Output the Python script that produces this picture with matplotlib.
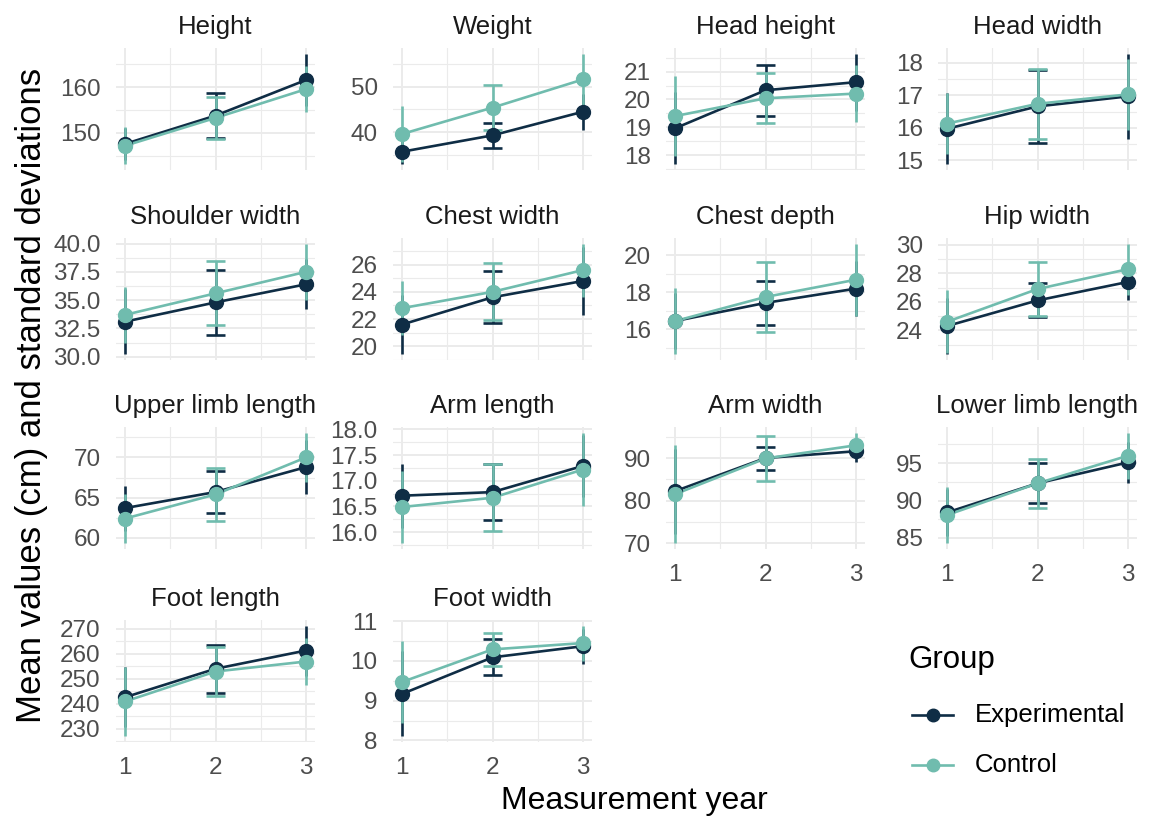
import numpy as np
import matplotlib
matplotlib.use("Agg")
import matplotlib.pyplot as plt
from matplotlib.lines import Line2D

plt.rcParams['font.family'] = ['Liberation Sans', 'DejaVu Sans']

years = [1, 2, 3]
panels = ["Height", "Weight", "Head height", "Head width",
          "Shoulder width", "Chest width", "Chest depth", "Hip width",
          "Upper limb length", "Arm length", "Arm width", "Lower limb length",
          "Foot length", "Foot width"]

exp_mean = [[147.6, 153.8, 161.6], [35.7, 39.3, 44.5], [18.96, 20.33, 20.62], [15.97, 16.66, 16.97],
            [33.1, 34.8, 36.4], [21.6, 23.6, 24.8], [16.45, 17.43, 18.2], [24.3, 26.1, 27.4],
            [63.7, 65.7, 68.8], [16.71, 16.78, 17.29], [82.2, 90.0, 91.6], [88.4, 92.3, 95.1],
            [242.6, 254.0, 261.3], [9.17, 10.09, 10.37]]
exp_sd = [[3.5, 4.9, 5.8], [2.8, 2.8, 4.0], [1.3, 0.92, 1.03], [1.1, 1.13, 1.32],
          [2.9, 2.9, 2.2], [2.2, 1.9, 2.5], [1.5, 1.2, 1.5], [2.0, 1.2, 1.3],
          [2.8, 2.6, 3.4], [0.62, 0.54, 0.6], [10.0, 2.7, 2.6], [3.2, 2.7, 2.8],
          [12.0, 9.7, 10.0], [1.07, 0.45, 0.44]]
ctrl_mean = [[147.2, 153.3, 159.6], [39.6, 45.4, 51.6], [19.4, 20.04, 20.21], [16.13, 16.74, 17.03],
             [33.7, 35.6, 37.5], [22.8, 24.0, 25.6], [16.45, 17.75, 18.68], [24.6, 26.9, 28.3],
             [62.4, 65.4, 70.0], [16.49, 16.67, 17.22], [81.5, 89.9, 93.0], [88.05, 92.3, 96.0],
             [240.9, 252.9, 256.9], [9.47, 10.29, 10.45]]
ctrl_sd = [[4.1, 4.6, 5.0], [6.2, 5.0, 5.7], [1.45, 0.9, 1.03], [0.95, 1.08, 1.1],
           [2.5, 2.83, 2.5], [2.0, 2.1, 1.95], [1.8, 1.9, 1.95], [2.2, 1.88, 1.8],
           [3.1, 3.3, 3.1], [0.71, 0.65, 0.72], [11.6, 5.3, 3.0], [3.8, 3.3, 3.1],
           [14.0, 9.8, 9.6], [1.04, 0.41, 0.44]]
y_ticks = [[150, 160], [40, 50], [18, 19, 20, 21], [15, 16, 17, 18],
           [30, 32.5, 35, 37.5, 40], [20, 22, 24, 26], [16, 18, 20], [24, 26, 28, 30],
           [60, 65, 70], [16, 16.5, 17, 17.5, 18], [70, 80, 90], [85, 90, 95, 100],
           [230, 240, 250, 260, 270], [8, 9, 10, 11]]
tick_fmt = ["%d", "%d", "%d", "%d", "%.1f", "%d", "%d", "%d",
            "%d", "%.1f", "%d", "%d", "%d", "%d"]
groups = ["Experimental", "Control"]

dark = "#0f2d45"
teal = "#70bcae"
grid_col = "#ebebeb"

W, H = 1157, 821
fig = plt.figure(figsize=(W / 100, H / 100), dpi=100)

col_left = [116, 393, 666, 938]
row_top = [48, 238, 427, 620]
pw, ph = 199, 122
LW = 1.9


def draw_group(ax, mean, sd, color):
    mean = np.array(mean)
    sd = np.array(sd)
    ax.plot(years, mean, color=color, lw=LW, zorder=3)
    ax.vlines(years, mean - sd, mean + sd, color=color, lw=LW, zorder=3)
    # caps only survive at the middle year (outer ones fall outside x limits)
    ax.hlines([mean[1] - sd[1], mean[1] + sd[1]], 1.9, 2.1, color=color, lw=LW, zorder=3)
    ax.plot(years, mean, 'o', color=color, ms=10, zorder=4)


for i, name in enumerate(panels):
    r, c = divmod(i, 4)
    left = col_left[c] / W
    bottom = 1 - (row_top[r] + ph) / H
    ax = fig.add_axes([left, bottom, pw / W, ph / H])

    draw_group(ax, exp_mean[i], exp_sd[i], dark)
    draw_group(ax, ctrl_mean[i], ctrl_sd[i], teal)

    lo = min(np.min(np.array(exp_mean[i]) - exp_sd[i]), np.min(np.array(ctrl_mean[i]) - ctrl_sd[i]))
    hi = max(np.max(np.array(exp_mean[i]) + exp_sd[i]), np.max(np.array(ctrl_mean[i]) + ctrl_sd[i]))
    pad = 0.05 * (hi - lo)
    ylo, yhi = lo - pad, hi + pad

    t = y_ticks[i]
    step = t[1] - t[0]
    minor = [v + step / 2 for v in [t[0] - step] + t]
    minor = [m for m in minor if ylo <= m <= yhi]

    ax.set_xlim(0.9, 3.1)
    ax.set_xticks(years)
    ax.set_xticks([1.5, 2.5], minor=True)
    ax.set_yticks(t)
    ax.set_yticklabels([tick_fmt[i] % v for v in t])
    ax.set_yticks(minor, minor=True)
    ax.set_ylim(ylo, yhi)

    ax.grid(True, which='major', color=grid_col, lw=1.4, zorder=0)
    ax.grid(True, which='minor', color=grid_col, lw=0.8, zorder=0)
    ax.set_axisbelow(True)
    for s in ax.spines.values():
        s.set_visible(False)
    ax.tick_params(which='both', length=0, labelsize=17.5, labelcolor="#4d4d4d")
    ax.tick_params(axis='y', pad=11)
    ax.tick_params(axis='x', pad=11)

    bottom_panel = (r == 3) or (r == 2 and c >= 2)
    if not bottom_panel:
        ax.set_xticklabels([])

    ax.set_title(name, fontsize=18.5, color="#1a1a1a", pad=10)

fig.text(634 / W, 1 - 801 / H, "Measurement year", ha='center', va='center', fontsize=23, color="black")
fig.text(32 / W, 1 - 395 / H, "Mean values (cm) and standard deviations", ha='center', va='center',
         rotation=90, fontsize=25, color="black")

# legend, drawn by hand
fig.text(908 / W, 1 - 660 / H, "Group", ha='left', va='center', fontsize=22.5, color="black")
for k, (lab, col) in enumerate(zip(groups, [dark, teal])):
    yy = 1 - (715 + 50 * k) / H
    fig.add_artist(Line2D([912 / W, 953 / W], [yy, yy], color=col, lw=LW, transform=fig.transFigure))
    fig.add_artist(Line2D([932.5 / W], [yy], color=col, marker='o', ms=9, transform=fig.transFigure))
    fig.text(975 / W, yy, lab, ha='left', va='center', fontsize=18.5, color="black")

fig.savefig("out.png", dpi=100)
